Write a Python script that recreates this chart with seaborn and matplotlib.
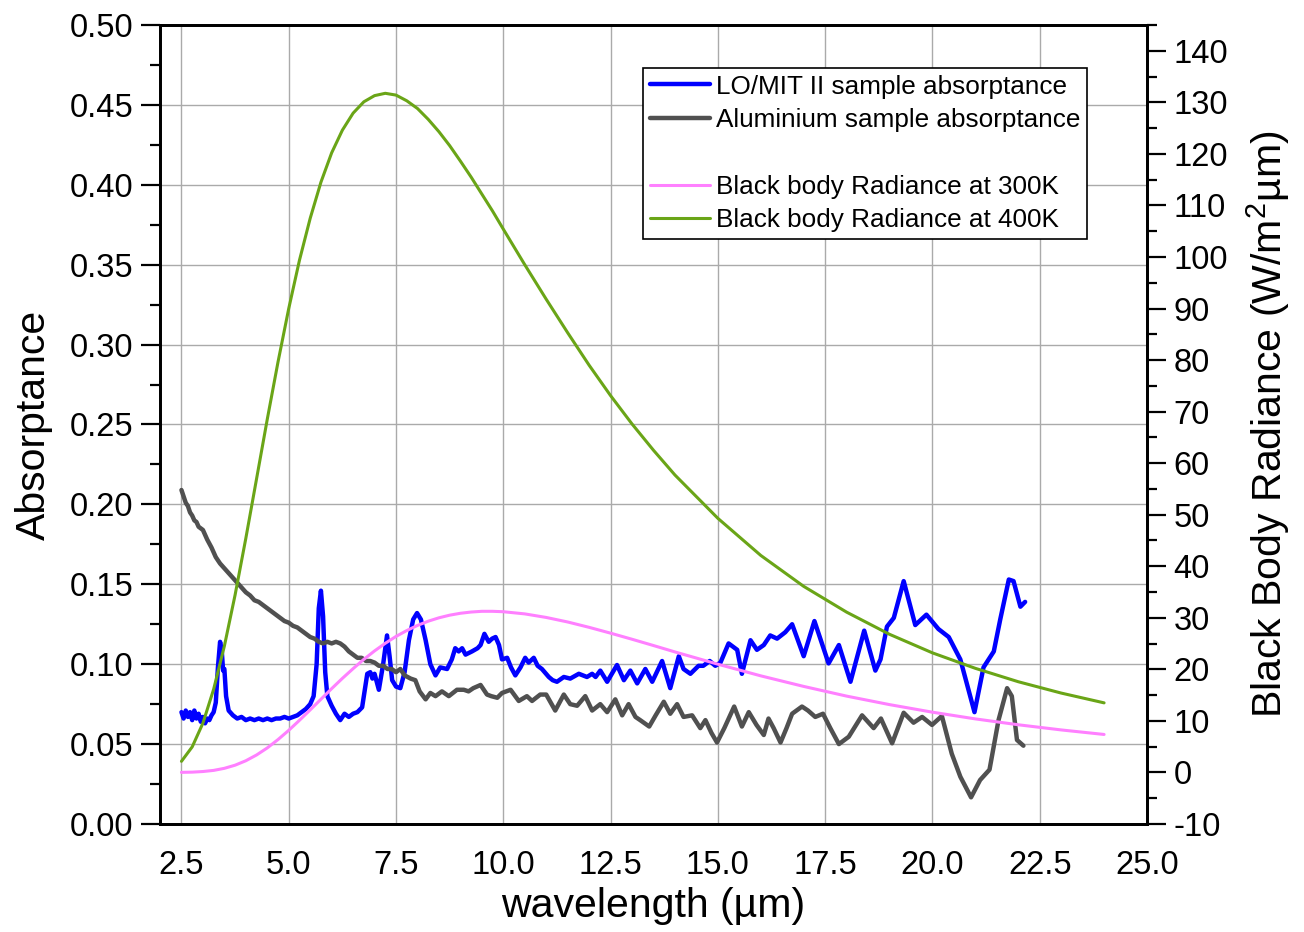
import numpy as np
import pandas as pd
import matplotlib
matplotlib.use("Agg")
import matplotlib.pyplot as plt
from matplotlib.lines import Line2D
from matplotlib.ticker import MultipleLocator, FormatStrFormatter
import seaborn as sns

# ---------------- data ----------------
lomit_wl = [2.50, 2.55, 2.60, 2.65, 2.70, 2.75, 2.80, 2.85, 2.90, 2.95, 3.00, 3.05, 3.10, 3.15, 3.20,
            3.25, 3.30, 3.35, 3.40, 3.44, 3.47, 3.50, 3.54, 3.60, 3.70, 3.80, 3.90, 4.00, 4.10, 4.20,
            4.30, 4.40, 4.50, 4.60, 4.70, 4.80, 4.90, 5.00, 5.10, 5.20, 5.30, 5.40, 5.50, 5.58, 5.65,
            5.70, 5.75, 5.80, 5.85, 5.90, 6.00, 6.10, 6.20, 6.30, 6.40, 6.50, 6.60, 6.71, 6.78, 6.83,
            6.90, 6.95, 7.00, 7.10, 7.20, 7.29, 7.35, 7.41, 7.50, 7.60, 7.70, 7.80, 7.90, 7.99, 8.08,
            8.19, 8.30, 8.42, 8.53, 8.69, 8.80, 8.88, 8.96, 9.04, 9.12, 9.27, 9.40, 9.47, 9.56, 9.66,
            9.74, 9.82, 9.90, 9.97, 10.09, 10.18, 10.28, 10.40, 10.51, 10.59, 10.71, 10.80, 10.90, 11.06,
            11.15, 11.25, 11.41, 11.56, 11.76, 11.95, 12.07, 12.15, 12.26, 12.42, 12.65, 12.81, 12.96,
            13.12, 13.31, 13.47, 13.70, 13.89, 14.09, 14.20, 14.36, 14.55, 14.66, 14.81, 14.94, 15.06,
            15.25, 15.45, 15.56, 15.76, 15.91, 16.07, 16.22, 16.38, 16.57, 16.73, 17.00, 17.25, 17.58,
            17.82, 18.09, 18.41, 18.67, 18.79, 18.94, 19.10, 19.33, 19.60, 19.86, 20.14, 20.38, 20.65,
            20.98, 21.19, 21.43, 21.58, 21.78, 21.89, 22.05, 22.16]
lomit_abs = [0.070, 0.066, 0.071, 0.067, 0.070, 0.065, 0.071, 0.066, 0.069, 0.064, 0.067, 0.063, 0.066, 0.065, 0.068,
             0.070, 0.076, 0.098, 0.114, 0.108, 0.096, 0.097, 0.080, 0.071, 0.068, 0.066, 0.067, 0.065, 0.066, 0.065,
             0.066, 0.065, 0.066, 0.065, 0.066, 0.066, 0.067, 0.066, 0.067, 0.068, 0.070, 0.072, 0.075, 0.080, 0.100,
             0.135, 0.146, 0.130, 0.095, 0.080, 0.074, 0.069, 0.065, 0.069, 0.067, 0.069, 0.070, 0.073, 0.085, 0.094,
             0.095, 0.091, 0.094, 0.084, 0.100, 0.118, 0.105, 0.090, 0.086, 0.085, 0.095, 0.115, 0.128, 0.132, 0.128,
             0.115, 0.100, 0.093, 0.098, 0.097, 0.103, 0.110, 0.108, 0.110, 0.106, 0.108, 0.110, 0.112, 0.119, 0.114,
             0.116, 0.117, 0.112, 0.103, 0.104, 0.098, 0.093, 0.098, 0.104, 0.101, 0.104, 0.099, 0.097, 0.092,
             0.090, 0.089, 0.092, 0.091, 0.094, 0.092, 0.094, 0.092, 0.096, 0.089, 0.0995, 0.090, 0.096,
             0.088, 0.097, 0.089, 0.102, 0.085, 0.105, 0.097, 0.094, 0.099, 0.099, 0.102, 0.099, 0.101,
             0.113, 0.109, 0.094, 0.115, 0.109, 0.112, 0.118, 0.116, 0.120, 0.125, 0.105, 0.127, 0.1005,
             0.112, 0.089, 0.121, 0.096, 0.103, 0.1235, 0.129, 0.152, 0.1245, 0.131, 0.122, 0.117, 0.103,
             0.070, 0.098, 0.108, 0.128, 0.153, 0.152, 0.136, 0.139]

alu_wl = [2.50, 2.55, 2.60, 2.65, 2.70, 2.75, 2.80, 2.85, 2.90, 3.00, 3.10, 3.20, 3.30, 3.40, 3.50, 3.60,
          3.70, 3.80, 3.90, 4.00, 4.10, 4.20, 4.30, 4.40, 4.50, 4.60, 4.70, 4.80, 4.90, 5.00, 5.10, 5.20,
          5.30, 5.40, 5.50, 5.60, 5.70, 5.80, 5.90, 6.00, 6.10, 6.20, 6.30, 6.40, 6.50, 6.60, 6.70, 6.80,
          6.90, 7.00, 7.10, 7.20, 7.30, 7.40, 7.50, 7.60, 7.70, 7.84, 7.95, 8.05, 8.19, 8.30, 8.42, 8.57,
          8.73, 8.92, 9.08, 9.19, 9.30, 9.47, 9.62, 9.72, 9.86, 9.97, 10.17, 10.36, 10.55, 10.67, 10.86,
          11.00, 11.21, 11.41, 11.56, 11.72, 11.91, 12.07, 12.26, 12.42, 12.61, 12.77, 12.92, 13.08, 13.19,
          13.40, 13.55, 13.74, 13.89, 14.05, 14.20, 14.40, 14.59, 14.71, 14.85, 14.98, 15.15, 15.38, 15.56,
          15.72, 15.90, 16.07, 16.18, 16.30, 16.46, 16.60, 16.73, 16.96, 17.10, 17.27, 17.45, 17.62, 17.82,
          18.05, 18.36, 18.63, 18.80, 19.06, 19.33, 19.56, 19.76, 19.99, 20.22, 20.45, 20.65, 20.90, 21.11,
          21.33, 21.54, 21.74, 21.85, 21.97, 22.12]
alu_abs = [0.209, 0.205, 0.201, 0.199, 0.195, 0.193, 0.190, 0.189, 0.186, 0.184, 0.178, 0.173, 0.167, 0.163, 0.160, 0.157,
           0.154, 0.151, 0.148, 0.145, 0.143, 0.140, 0.139, 0.137, 0.135, 0.133, 0.131, 0.129, 0.127, 0.126, 0.124, 0.123,
           0.121, 0.119, 0.117, 0.116, 0.114, 0.113, 0.114, 0.113, 0.114, 0.113, 0.111, 0.108, 0.106, 0.104, 0.104, 0.102,
           0.102, 0.101, 0.099, 0.099, 0.097, 0.097, 0.095, 0.097, 0.093, 0.091, 0.090, 0.083, 0.078, 0.082, 0.080, 0.083,
           0.080, 0.084, 0.084, 0.083, 0.085, 0.087, 0.081, 0.080, 0.079, 0.082, 0.084, 0.077, 0.080, 0.077, 0.081,
           0.081, 0.071, 0.081, 0.075, 0.074, 0.080, 0.071, 0.075, 0.070, 0.078, 0.068, 0.075, 0.067, 0.065,
           0.061, 0.068, 0.0765, 0.069, 0.075, 0.067, 0.068, 0.060, 0.065, 0.057, 0.051, 0.060, 0.0735, 0.061,
           0.070, 0.062, 0.0557, 0.066, 0.060, 0.051, 0.060, 0.069, 0.0735, 0.071, 0.067, 0.069, 0.060, 0.050,
           0.0546, 0.068, 0.060, 0.066, 0.0505, 0.0696, 0.0634, 0.067, 0.062, 0.0676, 0.044, 0.0296, 0.0167, 0.0275,
           0.034, 0.065, 0.085, 0.080, 0.0526, 0.049]

bb_wl = [2.5, 2.75, 3.0, 3.25, 3.5, 3.75, 4.0, 4.25, 4.5, 4.75, 5.0, 5.25, 5.5, 5.75, 6.0, 6.25, 6.5,
         6.75, 7.0, 7.25, 7.5, 7.75, 8.0, 8.25, 8.5, 8.75, 9.0, 9.25, 9.5, 9.75, 10.0, 10.5, 11.0, 11.5,
         12.0, 12.5, 13.0, 13.5, 14.0, 15.0, 16.0, 17.0, 18.0, 19.0, 20.0, 21.0, 22.0, 23.0, 24.0]
bb_300 = [0.02, 0.06, 0.18, 0.40, 0.80, 1.41, 2.27, 3.39, 4.76, 6.38, 8.17, 10.12, 12.14, 14.20, 16.26, 18.25,
          20.14, 21.94, 23.58, 25.06, 26.39, 27.53, 28.52, 29.34, 30.0, 30.51, 30.88, 31.12, 31.26, 31.26,
          31.18, 30.76, 30.07, 29.19, 28.15, 27.02, 25.84, 24.62, 23.38, 21.0, 18.74, 16.69, 14.81, 13.16,
          11.69, 10.39, 9.25, 8.25, 7.37]
bb_400 = [2.16, 4.96, 9.56, 16.14, 24.52, 34.44, 45.42, 56.96, 68.53, 79.63, 90.0, 99.37, 107.5, 114.5, 120.2,
          124.6, 127.9, 130.1, 131.3, 131.75, 131.4, 130.3, 128.8, 126.7, 124.3, 121.6, 118.6, 115.5, 112.2,
          108.9, 105.4, 98.5, 91.8, 85.3, 79.0, 73.1, 67.6, 62.5, 57.7, 49.3, 42.1, 36.1, 31.1, 26.8, 23.2,
          20.2, 17.6, 15.4, 13.5]

labels = ["LO/MIT II sample absorptance", "Aluminium sample absorptance",
          "Black body Radiance at 300K", "Black body Radiance at 400K"]
colors = ["#0000FF", "#505050", "#FF80FF", "#6AA517"]

# ---------------- style ----------------
sns.set_theme(style="white")
plt.rcParams["font.family"] = ["Liberation Sans", "DejaVu Sans"]
plt.rcParams["mathtext.fontset"] = "custom"
plt.rcParams["mathtext.rm"] = "Liberation Sans"
plt.rcParams["mathtext.it"] = "Liberation Sans"
plt.rcParams["axes.unicode_minus"] = False
plt.rcParams["text.color"] = "black"
plt.rcParams["axes.labelcolor"] = "black"

fig = plt.figure(figsize=(13.04, 9.32), dpi=100)
ax = fig.add_axes([160 / 1304, 1 - 824 / 932, (1147 - 160) / 1304, (824 - 25) / 932])
ax2 = ax.twinx()

df_lo = pd.DataFrame({"wl": lomit_wl, "v": lomit_abs})
df_al = pd.DataFrame({"wl": alu_wl, "v": alu_abs})
df_bb = pd.DataFrame({"wl": bb_wl, "t300": bb_300, "t400": bb_400})

line_kw = dict(sort=False, estimator=None, legend=False, solid_joinstyle="round", solid_capstyle="round")
sns.lineplot(data=df_lo, x="wl", y="v", ax=ax, color=colors[0], lw=3.2, **line_kw)
sns.lineplot(data=df_al, x="wl", y="v", ax=ax, color=colors[1], lw=3.2, **line_kw)
sns.lineplot(data=df_bb, x="wl", y="t300", ax=ax2, color=colors[2], lw=2.2, **line_kw)
sns.lineplot(data=df_bb, x="wl", y="t400", ax=ax2, color=colors[3], lw=2.2, **line_kw)

# axes limits & ticks
ax.set_xlim(2.0, 25.0)
ax.set_ylim(0, 0.5)
ax2.set_ylim(-10, 145)

ax.xaxis.set_major_locator(MultipleLocator(2.5))
ax.xaxis.set_minor_locator(MultipleLocator(1.25))
ax.xaxis.set_major_formatter(FormatStrFormatter("%.1f"))
ax.yaxis.set_major_locator(MultipleLocator(0.05))
ax.yaxis.set_minor_locator(MultipleLocator(0.025))
ax.yaxis.set_major_formatter(FormatStrFormatter("%.2f"))
ax2.yaxis.set_major_locator(MultipleLocator(10))
ax2.yaxis.set_minor_locator(MultipleLocator(5))

tick_kw = dict(direction="out", color="black", labelcolor="black")
ax.tick_params(axis="both", which="major", length=14, width=1.6, labelsize=23.5, pad=5, **tick_kw)
ax.tick_params(axis="both", which="minor", length=7, width=1.6, **tick_kw)
ax.tick_params(axis="x", top=False, which="both")
ax.tick_params(axis="y", right=False, which="both")
ax2.tick_params(axis="y", which="major", length=14, width=1.6, labelsize=23.5, pad=5, **tick_kw)
ax2.tick_params(axis="y", which="minor", length=7, width=1.6, **tick_kw)

ax.grid(True, which="major", color="#aaaaaa", lw=1.0)
ax.set_axisbelow(True)

for a in (ax, ax2):
    for s in a.spines.values():
        s.set_color("black")
        s.set_linewidth(2)

ax.set_xlabel("wavelength (µm)", fontsize=29.5, labelpad=4)
ax.set_ylabel("Absorptance", fontsize=29.5, labelpad=12)
ax2.set_ylabel("Black Body Radiance (W/m$^2$µm)", fontsize=29.5, labelpad=12)

handles = [Line2D([], [], color=colors[0], lw=3.2),
           Line2D([], [], color=colors[1], lw=3.2),
           Line2D([], [], color="none", lw=0),
           Line2D([], [], color=colors[2], lw=2.2),
           Line2D([], [], color=colors[3], lw=2.2)]
leg_labels = [labels[0], labels[1], " ", labels[2], labels[3]]
leg = ax2.legend(handles, leg_labels, loc="upper left", bbox_to_anchor=(643 / 1304, 1 - 68 / 932),
                 bbox_transform=fig.transFigure, fontsize=18.8, frameon=True, fancybox=False,
                 edgecolor="black", framealpha=1, borderpad=0.25, labelspacing=0.36,
                 handlelength=2.3, handletextpad=0.25, borderaxespad=0)
leg.get_frame().set_linewidth(1.2)

fig.savefig("out.png", dpi=100)
